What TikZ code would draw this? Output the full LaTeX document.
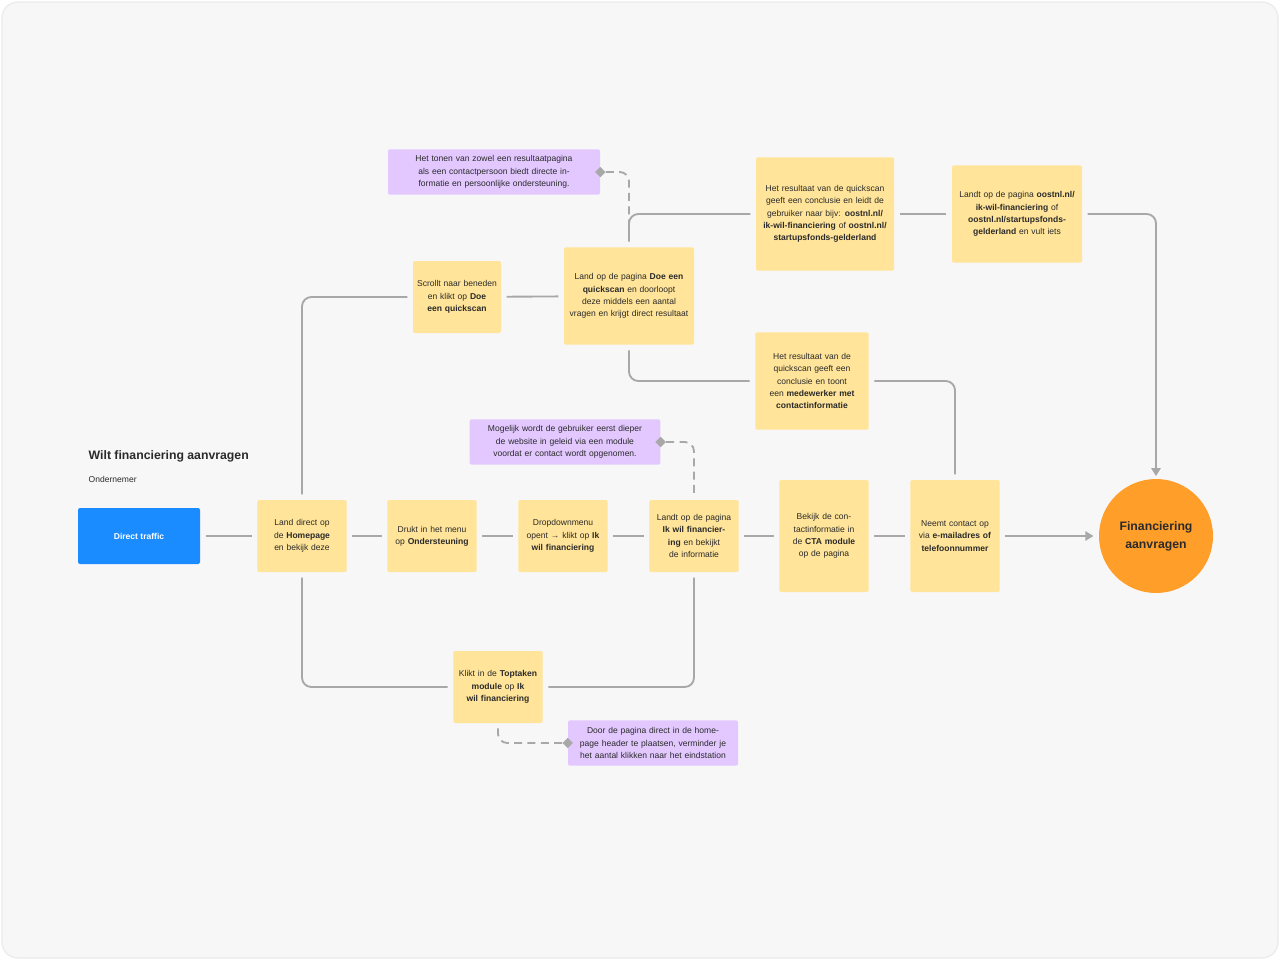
\documentclass[tikz,border=0pt]{standalone}
\usepackage{fontspec}
\setmainfont{Liberation Sans}
\usetikzlibrary{shapes.geometric,arrows.meta}
\definecolor{yel}{HTML}{FFE499}
\definecolor{pur}{HTML}{E2C8FF}
\definecolor{org}{HTML}{FF9F2A}
\definecolor{blu}{HTML}{1A8CFF}
\definecolor{lin}{HTML}{A8A8A8}
\definecolor{txt}{HTML}{2A2A2A}
\begin{document}
\begin{tikzpicture}[x=0.75pt,y=-0.75pt,
  box/.style={fill=yel,rounded corners=1.5pt,align=center,inner sep=0pt,text=txt,font=\fontsize{6.4}{9.2}\selectfont},
  note/.style={fill=pur,rounded corners=1.5pt,align=center,inner sep=0pt,text=txt,font=\fontsize{6.4}{9.2}\selectfont},
  con/.style={draw=lin,line width=1.4pt,rounded corners=7pt},
  dsh/.style={draw=lin,line width=1.4pt,dash pattern=on 6pt off 4pt,rounded corners=7pt},
  dia/.style={diamond,fill=lin,inner sep=0pt,minimum size=8pt},
  arr/.style={-{Triangle[length=6pt,width=7pt]}}]
\useasboundingbox (0,0) rectangle (1280,960);
\draw[fill=white!97!black,draw=black!8,line width=1pt,rounded corners=12pt] (2,2) rectangle (1278,958);
\node[anchor=west,font=\bfseries\fontsize{9.2}{11}\selectfont,text=txt] (title) at (84,456) {Wilt financiering aanvragen};
\node[anchor=west,font=\fontsize{6.4}{8}\selectfont,text=txt] (sub) at (84,479) {Ondernemer};
% boxes
\node[fill=blu,rounded corners=1.5pt,minimum width=91.5pt,minimum height=42pt,text=white,font=\bfseries\fontsize{6.4}{8}\selectfont] (dt) at (139,536) {Direct traffic};
\node[box,minimum width=67pt,minimum height=54pt,text width=62pt] (home) at (302,536) {Land direct op de \textbf{Homepage} en bekijk deze};
\node[box,minimum width=67pt,minimum height=54pt,text width=62pt] (ond) at (432,536) {Drukt in het menu op \textbf{Ondersteuning}};
\node[box,minimum width=67pt,minimum height=54pt,text width=62pt] (drop) at (563,536) {Dropdownmenu opent → klikt op \textbf{Ik wil financiering}};
\node[box,minimum width=67pt,minimum height=54pt,text width=62pt] (ikwil) at (694,536) {Landt op de pagina \textbf{Ik wil financiering} en bekijkt de informatie};
\node[box,minimum width=67pt,minimum height=84pt,text width=62pt] (cta) at (824,536) {Bekijk de contactinformatie in de \textbf{CTA module} op de pagina};
\node[box,minimum width=67pt,minimum height=84pt,text width=62pt] (neemt) at (955,536) {Neemt contact op via \textbf{e-mailadres of telefoonnummer}};
\node[circle,fill=org,minimum size=85.5pt,inner sep=0pt,align=center,text=txt,font=\bfseries\fontsize{9.2}{13.5}\selectfont] (fin) at (1156,536) {Financiering\\aanvragen};
\node[box,minimum width=66pt,minimum height=54pt,text width=60pt] (scroll) at (457,297) {Scrollt naar beneden en klikt op \textbf{Doe een quickscan}};
\node[box,minimum width=97.5pt,minimum height=73pt,text width=92pt] (quick) at (629,296) {Land op de pagina \textbf{Doe een quickscan} en doorloopt deze middels een aantal vragen en krijgt direct resultaat};
\node[box,minimum width=103.5pt,minimum height=85pt,text width=98pt] (res1) at (825,214) {Het resultaat van de quickscan geeft een conclusie en leidt de gebruiker naar bijv: \textbf{oostnl.nl/ ik-wil-financiering} of \textbf{oostnl.nl/ startupsfonds-gelderland}};
\node[box,minimum width=97.5pt,minimum height=73pt,text width=92pt] (landt) at (1017,214) {Landt op de pagina \textbf{oostnl.nl/ ik-wil-financiering} of \textbf{oostnl.nl/startupsfonds-gelderland} en vult iets};
\node[box,minimum width=85pt,minimum height=73pt,text width=80pt] (res2) at (812,381) {Het resultaat van de quickscan geeft een conclusie en toont een \textbf{medewerker met contactinformatie}};
\node[box,minimum width=67pt,minimum height=54pt,text width=60pt] (top) at (498,687) {Klikt in de \textbf{Toptaken module} op \textbf{Ik wil financiering}};
\node[note,minimum width=159pt,minimum height=34pt,text width=150pt] (n1) at (494,172) {Het tonen van zowel een resultaatpagina als een contactpersoon biedt directe informatie en persoonlijke ondersteuning.};
\node[note,minimum width=143pt,minimum height=34pt,text width=136pt] (n2) at (565,442) {Mogelijk wordt de gebruiker eerst dieper de website in geleid via een module voordat er contact wordt opgenomen.};
\node[note,minimum width=127.5pt,minimum height=34pt,text width=124pt] (n3) at (653,743) {Door de pagina direct in de homepage header te plaatsen, verminder je het aantal klikken naar het eindstation};
% diamonds
\node[dia] (d1) at (n1.east) {};
\node[dia] (d2) at (n2.east) {};
\node[dia] (d3) at (n3.west) {};
% straight connectors
\begin{scope}[shorten <=4pt,shorten >=4pt]
\draw[con] (dt) -- (home);
\draw[con] (home) -- (ond);
\draw[con] (ond) -- (drop);
\draw[con] (drop) -- (ikwil);
\draw[con] (ikwil) -- (cta);
\draw[con] (cta) -- (neemt);
\draw[con,arr] (neemt) -- (fin);
\draw[con] (scroll) -- (quick);
\draw[con] (res1) -- (landt);
\draw[con] (home.north) -- (302,297) -- (scroll.west);
\draw[con] (quick.north) -- (629,214) -- (res1.west);
\draw[con] (quick.south) -- (629,381) -- (res2.west);
\draw[con] (home.south) -- (302,687) -- (top.west);
\draw[con] (top.east) -- (694,687) -- (ikwil.south);
\draw[con] (res2.east) -- (955,381) -- (neemt.north);
\draw[con,arr,shorten >=2pt] (landt.east) -- (1156,214) -- (fin.north);
\end{scope}
\draw[dsh] (d1) -- (629,172) -- (629,240);
\draw[dsh] (d2) -- (694,442) -- (694,495);
\draw[dsh] (d3) -- (498,743) -- (498,727);
\end{tikzpicture}
\end{document}
